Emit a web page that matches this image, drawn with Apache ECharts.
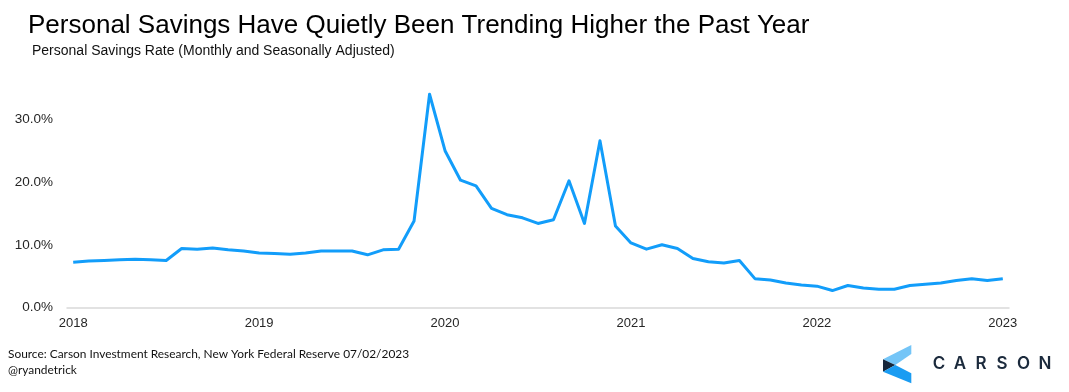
<!DOCTYPE html>
<html><head><meta charset="utf-8">
<script src="https://cdn.jsdelivr.net/npm/echarts@6/dist/echarts.min.js"></script>
<style>html,body{margin:0;padding:0;background:#fff}#c{width:1069px;height:392px}</style>
</head><body><div id="c"></div>
<script>
// Monthly personal savings rate (%), Jan 2018 .. Jan 2023 (61 points)
const savingsRate = [
  7.2, 7.4, 7.5, 7.6, 7.7, 7.6, 7.5, 9.4, 9.3, 9.5, 9.2, 9.0,
  8.7, 8.6, 8.5, 8.7, 9.0, 9.0, 9.0, 8.4, 9.2, 9.3, 13.8, 34.0,
  25.0, 20.3, 19.4, 15.8, 14.8, 14.3, 13.4, 14.0, 20.2, 13.4, 26.6, 13.0,
  10.3, 9.3, 10.0, 9.4, 7.8, 7.3, 7.1, 7.5, 4.6, 4.4, 3.9, 3.6,
  3.4, 2.7, 3.5, 3.1, 2.9, 2.9, 3.5, 3.7, 3.9, 4.3, 4.6, 4.3,
  4.6
];
const yearLabels = ['2018', '2019', '2020', '2021', '2022', '2023'];
const yearTickIdx = [0, 12, 24, 36, 48, 60];
const titleText = 'Personal Savings Have Quietly Been Trending Higher the Past Year';
const subtitleText = 'Personal Savings Rate (Monthly and Seasonally Adjusted)';
const sourceText = 'Source: Carson Investment Research, New York Federal Reserve 07/02/2023';
const handleText = '@ryandetrick';
const brandLetters = ['C', 'A', 'R', 'S', 'O', 'N'];

const chart = echarts.init(document.getElementById('c'), null, {renderer: 'canvas'});
const brandX = [939, 960, 981, 1002, 1023.5, 1045];
const option = {
  animation: false,
  backgroundColor: '#ffffff',
  grid: {left: 67, right: 60, top: 88, bottom: 84.5},
  xAxis: {
    type: 'value', min: -0.4, max: 60.4,
    splitLine: {show: false},
    axisLine: {show: true, lineStyle: {color: '#d9d9d9', width: 1.5}},
    axisTick: {show: false},
    axisLabel: {
      customValues: yearTickIdx,
      formatter: v => yearLabels[yearTickIdx.indexOf(Math.round(v))] || '',
      color: '#262626', fontSize: 13, fontFamily: 'Liberation Sans', margin: 9
    }
  },
  yAxis: {
    type: 'value', min: 0, max: 35, interval: 10,
    splitLine: {show: false},
    axisLine: {show: false},
    axisTick: {show: false},
    axisLabel: {
      formatter: v => v.toFixed(1) + '%',
      showMaxLabel: false,
      color: '#262626', fontSize: 13.5, fontFamily: 'Liberation Sans', margin: 14
    }
  },
  series: [{
    type: 'line',
    data: savingsRate.map((v, i) => [i, v]),
    showSymbol: false,
    lineStyle: {color: '#129dfa', width: 3, join: 'round'},
    silent: true
  }],
  graphic: [
    {type: 'text', left: 28, top: 13, style: {text: titleText, fill: '#000', font: '26px "Liberation Sans"'}},
    {type: 'text', left: 32, top: 44, style: {text: subtitleText, fill: '#111', font: '14px "Liberation Sans"'}},
    {type: 'text', left: 8, top: 348, style: {text: sourceText, fill: '#111', font: '11.9px "Lato"'}},
    {type: 'text', left: 8, top: 364, style: {text: handleText, fill: '#111', font: '11.9px "Lato"'}},
    {type: 'polygon', shape: {points: [[883, 359.3], [911.3, 345], [911.3, 354], [895.3, 365]]}, style: {fill: '#74c5f7'}},
    {type: 'polygon', shape: {points: [[883, 359.3], [895.3, 365], [883, 371.7]]}, style: {fill: '#16263a'}},
    {type: 'polygon', shape: {points: [[883, 371.7], [895.3, 365], [911.3, 373.3], [911.3, 383.3]]}, style: {fill: '#1a9cf2'}}
  ].concat(brandLetters.map((ch, i) => ({
    type: 'text', x: brandX[i], y: 364.3,
    style: {text: ch, fill: '#1b2a3c', font: '600 17px "Inter"', align: 'center', verticalAlign: 'middle'}
  })))
};
chart.setOption(option);
</script></body></html>
